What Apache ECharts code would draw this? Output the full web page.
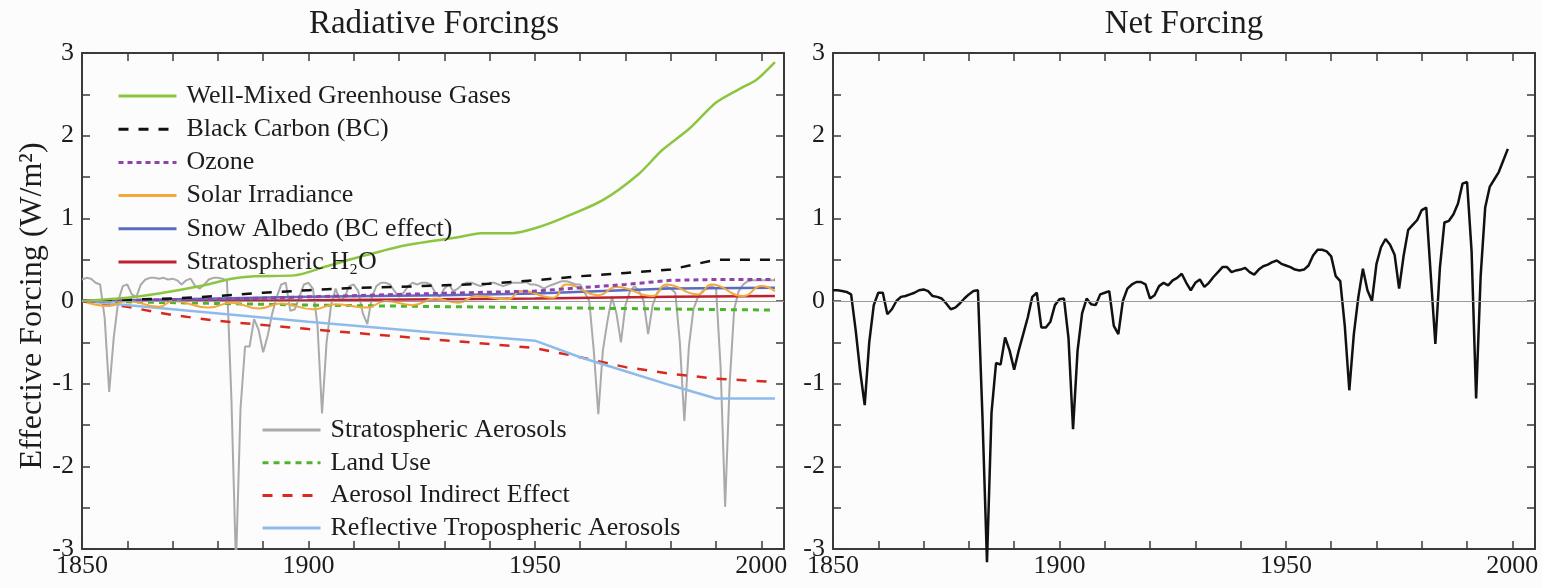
<!DOCTYPE html>
<html>
<head>
<meta charset="utf-8">
<title>Radiative Forcings / Net Forcing</title>
<script src="https://cdn.jsdelivr.net/npm/echarts/dist/echarts.min.js"></script>
<style>
  html, body { margin: 0; padding: 0; background: #fcfcfc; }
  #chart { width: 1542px; height: 588px; }
</style>
</head>
<body>
<div id="chart"></div>
<script>
// ---- Data: effective forcing relative to 1850 (W/m²), [year, value] ----
const wellMixedGHG = [
  [1850, 0.00], [1860, 0.04], [1867, 0.09], [1877, 0.19], [1883, 0.27], [1888, 0.30],
  [1897, 0.31], [1904, 0.42], [1911, 0.53], [1922, 0.68], [1933, 0.77], [1938, 0.82],
  [1945, 0.82], [1950, 0.88], [1956, 1.00], [1965, 1.22], [1973, 1.54], [1978, 1.82],
  [1984, 2.08], [1990, 2.40], [1995, 2.56], [1999, 2.68], [2003, 2.89]
];
const blackCarbon = [
  [1850, 0.00], [1870, 0.03], [1880, 0.06], [1890, 0.10], [1900, 0.13], [1910, 0.16],
  [1920, 0.17], [1930, 0.19], [1940, 0.21], [1950, 0.25], [1960, 0.30], [1970, 0.34],
  [1980, 0.38], [1985, 0.44], [1990, 0.50], [2003, 0.50]
];
const ozone = [
  [1850, 0.00], [1880, 0.02], [1900, 0.05], [1920, 0.08], [1950, 0.12], [1960, 0.16],
  [1970, 0.20], [1980, 0.25], [1990, 0.26], [2003, 0.26]
];
const solarIrradiance = [
  [1850, 0.00], [1856, -0.06], [1860, 0.00], [1867, -0.07], [1870, 0.00], [1878, -0.08],
  [1883, -0.02], [1889, -0.09], [1894, -0.03], [1901, -0.10], [1906, -0.04], [1913, -0.08],
  [1917, 0.00], [1923, -0.05], [1928, 0.03], [1933, -0.02], [1937, 0.06], [1944, 0.02],
  [1947, 0.12], [1954, 0.04], [1957, 0.20], [1964, 0.07], [1968, 0.17], [1976, 0.06],
  [1979, 0.20], [1986, 0.08], [1989, 0.20], [1996, 0.06], [2000, 0.18], [2003, 0.12]
];
const snowAlbedo = [
  [1850, 0.00], [1880, 0.03], [1900, 0.05], [1930, 0.07], [1950, 0.09], [1965, 0.12],
  [1980, 0.15], [2003, 0.16]
];
const stratH2O = [
  [1850, 0.00], [1900, 0.01], [1950, 0.03], [1980, 0.05], [2003, 0.06]
];
const stratAerosols = [
  [1850, 0.26], [1851, 0.28], [1852, 0.27], [1853, 0.22], [1854, 0.20], [1855, -0.20],
  [1856, -1.10], [1857, -0.45], [1858, 0.00], [1859, 0.18], [1860, 0.20], [1861, 0.08],
  [1862, 0.05], [1863, 0.20], [1864, 0.26], [1865, 0.28], [1866, 0.28], [1867, 0.27],
  [1868, 0.28], [1869, 0.26], [1870, 0.27], [1871, 0.25], [1872, 0.20], [1873, 0.25],
  [1874, 0.27], [1875, 0.18], [1876, 0.15], [1877, 0.20], [1878, 0.26], [1879, 0.28],
  [1880, 0.28], [1881, 0.27], [1882, 0.25], [1883, -1.20], [1884, -3.20], [1885, -1.30],
  [1886, -0.55], [1887, -0.55], [1888, -0.22], [1889, -0.35], [1890, -0.62], [1891, -0.42],
  [1892, -0.15], [1893, 0.05], [1894, 0.20], [1895, 0.22], [1896, -0.12], [1897, -0.10],
  [1898, 0.05], [1899, 0.20], [1900, 0.22], [1901, 0.15], [1902, -0.30], [1903, -1.36],
  [1904, -0.50], [1905, -0.05], [1906, 0.15], [1907, 0.00], [1908, 0.05], [1909, 0.18],
  [1910, 0.20], [1911, 0.12], [1912, -0.15], [1913, -0.28], [1914, 0.05], [1915, 0.18],
  [1916, 0.22], [1917, 0.22], [1918, 0.20], [1919, 0.12], [1920, 0.05], [1921, 0.10],
  [1922, 0.18], [1923, 0.22], [1924, 0.20], [1925, 0.22], [1926, 0.22], [1927, 0.20],
  [1928, 0.10], [1929, 0.05], [1930, 0.15], [1931, 0.20], [1932, 0.12], [1933, 0.15],
  [1934, 0.20], [1935, 0.22], [1936, 0.22], [1937, 0.20], [1938, 0.18], [1939, 0.20],
  [1940, 0.22], [1941, 0.22], [1942, 0.20], [1943, 0.18], [1944, 0.20], [1945, 0.22],
  [1946, 0.22], [1947, 0.22], [1948, 0.23], [1949, 0.20], [1950, 0.20], [1951, 0.18],
  [1952, 0.15], [1953, 0.18], [1954, 0.20], [1955, 0.22], [1956, 0.24], [1957, 0.24],
  [1958, 0.22], [1959, 0.20], [1960, 0.20], [1961, 0.10], [1962, 0.00], [1963, -0.60],
  [1964, -1.37], [1965, -0.60], [1966, -0.25], [1967, 0.05], [1968, -0.15], [1969, -0.50],
  [1970, -0.05], [1971, 0.12], [1972, 0.18], [1973, 0.12], [1974, 0.00], [1975, -0.40],
  [1976, -0.05], [1977, 0.10], [1978, 0.15], [1979, 0.18], [1980, 0.15], [1981, 0.10],
  [1982, -0.50], [1983, -1.45], [1984, -0.55], [1985, -0.10], [1986, 0.05], [1987, 0.12],
  [1988, 0.15], [1989, 0.18], [1990, 0.15], [1991, -0.80], [1992, -2.49], [1993, -1.00],
  [1994, -0.10], [1995, 0.12], [1996, 0.20], [1997, 0.24], [1998, 0.25], [1999, 0.25],
  [2000, 0.25], [2001, 0.25], [2002, 0.25], [2003, 0.25]
];
const landUse = [
  [1850, 0.00], [1900, -0.05], [1950, -0.08], [2003, -0.11]
];
const aerosolIndirect = [
  [1850, 0.00], [1860, -0.07], [1870, -0.17], [1880, -0.24], [1900, -0.34], [1920, -0.43],
  [1940, -0.52], [1950, -0.57], [1960, -0.68], [1970, -0.80], [1980, -0.88], [1990, -0.94],
  [2003, -0.98]
];
const reflectiveTropAerosols = [
  [1850, 0.00], [1870, -0.10], [1900, -0.25], [1925, -0.37], [1950, -0.48], [1960, -0.68],
  [1970, -0.85], [1980, -1.02], [1990, -1.18], [2003, -1.18]
];
const netForcing = [
  [1850, 0.13], [1851, 0.13], [1852, 0.12], [1853, 0.11], [1854, 0.08], [1855, -0.35],
  [1856, -0.85], [1857, -1.26], [1858, -0.50], [1859, -0.05], [1860, 0.10], [1861, 0.10],
  [1862, -0.16], [1863, -0.10], [1864, 0.00], [1865, 0.05], [1866, 0.06], [1867, 0.08],
  [1868, 0.10], [1869, 0.13], [1870, 0.14], [1871, 0.12], [1872, 0.06], [1873, 0.05],
  [1874, 0.03], [1875, -0.03], [1876, -0.10], [1877, -0.08], [1878, -0.03], [1879, 0.03],
  [1880, 0.08], [1881, 0.12], [1882, 0.13], [1883, -1.40], [1884, -3.16], [1885, -1.35],
  [1886, -0.75], [1887, -0.77], [1888, -0.44], [1889, -0.60], [1890, -0.83], [1891, -0.60],
  [1892, -0.40], [1893, -0.20], [1894, 0.05], [1895, 0.10], [1896, -0.32], [1897, -0.32],
  [1898, -0.25], [1899, -0.05], [1900, 0.02], [1901, 0.03], [1902, -0.45], [1903, -1.55],
  [1904, -0.60], [1905, -0.15], [1906, 0.03], [1907, -0.04], [1908, -0.05], [1909, 0.08],
  [1910, 0.10], [1911, 0.12], [1912, -0.30], [1913, -0.40], [1914, 0.00], [1915, 0.15],
  [1916, 0.20], [1917, 0.23], [1918, 0.23], [1919, 0.20], [1920, 0.03], [1921, 0.07],
  [1922, 0.18], [1923, 0.22], [1924, 0.19], [1925, 0.25], [1926, 0.28], [1927, 0.33],
  [1928, 0.22], [1929, 0.13], [1930, 0.22], [1931, 0.26], [1932, 0.17], [1933, 0.22],
  [1934, 0.29], [1935, 0.35], [1936, 0.41], [1937, 0.41], [1938, 0.35], [1939, 0.37],
  [1940, 0.38], [1941, 0.40], [1942, 0.35], [1943, 0.32], [1944, 0.38], [1945, 0.42],
  [1946, 0.44], [1947, 0.47], [1948, 0.49], [1949, 0.45], [1950, 0.43], [1951, 0.41],
  [1952, 0.38], [1953, 0.37], [1954, 0.38], [1955, 0.43], [1956, 0.55], [1957, 0.62],
  [1958, 0.62], [1959, 0.60], [1960, 0.54], [1961, 0.30], [1962, 0.24], [1963, -0.30],
  [1964, -1.08], [1965, -0.40], [1966, 0.05], [1967, 0.39], [1968, 0.13], [1969, 0.00],
  [1970, 0.45], [1971, 0.65], [1972, 0.75], [1973, 0.68], [1974, 0.56], [1975, 0.15],
  [1976, 0.55], [1977, 0.86], [1978, 0.92], [1979, 0.98], [1980, 1.10], [1981, 1.13],
  [1982, 0.30], [1983, -0.52], [1984, 0.40], [1985, 0.95], [1986, 0.97], [1987, 1.05],
  [1988, 1.18], [1989, 1.42], [1990, 1.44], [1991, 0.60], [1992, -1.18], [1993, 0.30],
  [1994, 1.13], [1995, 1.38], [1996, 1.47], [1997, 1.56], [1998, 1.70], [1999, 1.84]
];

const panelTitles = ['Radiative Forcings', 'Net Forcing'];
const yAxisTitle = 'Effective Forcing (W/m²)';
const upperLegend = [
  'Well-Mixed Greenhouse Gases', 'Black Carbon (BC)', 'Ozone',
  'Solar Irradiance', 'Snow Albedo (BC effect)', 'Stratospheric H₂O'
];
const lowerLegend = [
  'Stratospheric Aerosols', 'Land Use', 'Aerosol Indirect Effect',
  'Reflective Tropospheric Aerosols'
];

// ---- Styling ----
const FONT = '"Liberation Serif", "Times New Roman", serif';
const INK = '#1c1c1c';
const FRAME = '#3a3a3a';

const chart = echarts.init(document.getElementById('chart'), null, { renderer: 'canvas' });

function xAxisFor(gridIndex, bottom) {
  return {
    type: 'value', gridIndex, position: bottom ? 'bottom' : 'top',
    min: 1850, max: 2005, interval: 10,
    axisLine: { show: true, onZero: false, lineStyle: { color: FRAME, width: 2 } },
    axisTick: { show: true, inside: true, length: 8, lineStyle: { color: FRAME, width: 1.5 } },
    splitLine: { show: false },
    axisLabel: {
      show: bottom, margin: 4, fontFamily: FONT, fontSize: 26, color: INK,
      formatter: v => (v % 50 === 0 ? String(v) : '')
    }
  };
}
function yAxisFor(gridIndex, left, withName) {
  const ax = {
    type: 'value', gridIndex, position: left ? 'left' : 'right',
    min: -3, max: 3, interval: 0.5,
    axisLine: { show: true, onZero: false, lineStyle: { color: FRAME, width: 2 } },
    axisTick: { show: true, inside: true, length: 8, lineStyle: { color: FRAME, width: 1.5 } },
    splitLine: { show: false },
    axisLabel: {
      show: left, margin: 8, fontFamily: FONT, fontSize: 26, color: INK,
      formatter: v => (Number.isInteger(v) ? String(v) : '')
    }
  };
  if (withName) {
    ax.name = yAxisTitle;
    ax.nameLocation = 'middle';
    ax.nameRotate = 90;
    ax.nameGap = 30;
    ax.nameTextStyle = { fontFamily: FONT, fontSize: 32, color: INK, padding: [0, 10, 0, 0] };
  }
  return ax;
}

function lineSeries(name, data, color, width, type, extra) {
  return Object.assign({
    name, type: 'line', data,
    xAxisIndex: 0, yAxisIndex: 0,
    showSymbol: false, symbol: 'none',
    lineStyle: { color, width, type: type || 'solid' },
    itemStyle: { color },
    emphasis: { disabled: true },
    silent: true, z: 3
  }, extra || {});
}

const zeroLine = {
  silent: true, symbol: 'none', animation: false,
  label: { show: false },
  lineStyle: { color: '#9a9a9a', width: 1, type: 'solid' },
  data: [{ yAxis: 0 }]
};

// Legend keys show only the line sample (the marker glyph is made invisible)
const legendBase = {
  orient: 'vertical', padding: 0, selectedMode: false,
  itemWidth: 58, itemHeight: 20,
  itemStyle: { opacity: 0, borderWidth: 0 },
  lineStyle: { width: 3 },
  textStyle: { fontFamily: FONT, fontSize: 26, color: INK, lineHeight: 20, padding: [0, 0, 0, 5] }
};

const option = {
  backgroundColor: '#fcfcfc',
  animation: false,
  grid: [
    { left: 82, right: 758, top: 53, bottom: 39, outerBoundsMode: 'none' },
    { left: 833, right: 7, top: 53, bottom: 39, outerBoundsMode: 'none' }
  ],
  xAxis: [xAxisFor(0, true), xAxisFor(0, false), xAxisFor(1, true), xAxisFor(1, false)],
  yAxis: [yAxisFor(0, true, true), yAxisFor(0, false, false), yAxisFor(1, true, false), yAxisFor(1, false, false)],
  legend: [
    Object.assign({ left: 117, top: 83, itemGap: 7.2, data: upperLegend }, legendBase),
    Object.assign({ left: 261, top: 417, itemGap: 6.7, data: lowerLegend }, legendBase)
  ],
  graphic: [
    { type: 'text', x: 434, y: 8, silent: true,
      style: { text: panelTitles[0], font: '33px ' + FONT, fill: INK, align: 'center', verticalAlign: 'top' } },
    { type: 'text', x: 1184, y: 8, silent: true,
      style: { text: panelTitles[1], font: '33px ' + FONT, fill: INK, align: 'center', verticalAlign: 'top' } }
  ],
  series: [
    lineSeries('Stratospheric Aerosols', stratAerosols, '#aaaaaa', 2, 'solid', { markLine: zeroLine, z: 2 }),
    lineSeries('Land Use', landUse, '#4db52b', 3, [6, 5]),
    lineSeries('Aerosol Indirect Effect', aerosolIndirect, '#d9281f', 2.5, [10, 10]),
    lineSeries('Reflective Tropospheric Aerosols', reflectiveTropAerosols, '#8fbbea', 2.5),
    lineSeries('Stratospheric H₂O', stratH2O, '#c0212f', 2.5),
    lineSeries('Snow Albedo (BC effect)', snowAlbedo, '#5b6cc0', 2.5),
    lineSeries('Solar Irradiance', solarIrradiance, '#f2a93b', 2, 'solid', { smooth: 0.5 }),
    lineSeries('Ozone', ozone, '#8b44a8', 3, [5, 4]),
    lineSeries('Black Carbon (BC)', blackCarbon, '#111111', 2.5, [10, 10]),
    lineSeries('Well-Mixed Greenhouse Gases', wellMixedGHG, '#8cc640', 2.5, 'solid', { smooth: 0.25 }),
    lineSeries('Net Forcing', netForcing, '#111111', 2.5, 'solid',
      { xAxisIndex: 2, yAxisIndex: 2, clip: false, markLine: zeroLine })
  ]
};

chart.setOption(option);
</script>
</body>
</html>
